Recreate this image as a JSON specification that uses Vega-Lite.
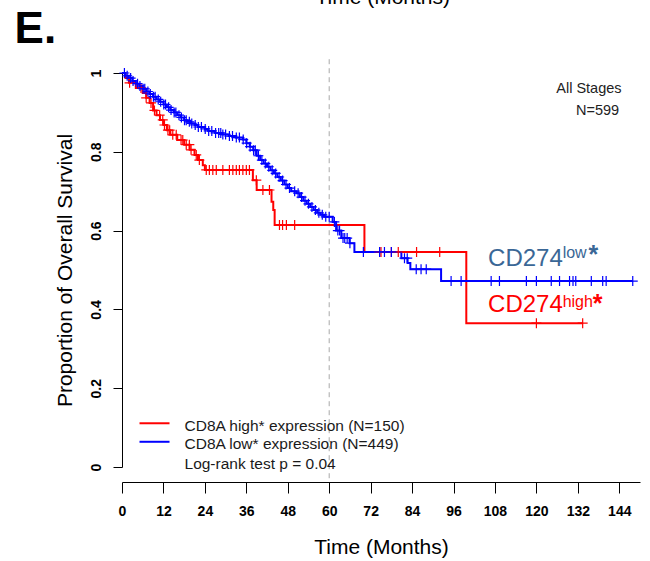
{
  "$schema": "https://vega.github.io/schema/vega-lite/v6.json",
  "width": 518,
  "height": 394,
  "autosize": {"type": "none"},
  "padding": {"left": 122, "top": 73, "right": 10, "bottom": 94},
  "background": "white",
  "config": {
    "view": {"stroke": null},
    "font": "Liberation Sans",
    "text": {"font": "Liberation Sans"}
  },
  "datasets": {
    "steps": [
      {"t": 0, "s": 1, "g": "high"}, {"t": 1, "s": 0.987, "g": "high"}, {"t": 2, "s": 0.975, "g": "high"}, {"t": 4, "s": 0.962, "g": "high"}, {"t": 6, "s": 0.949, "g": "high"}, {"t": 7, "s": 0.937, "g": "high"}, {"t": 8, "s": 0.924, "g": "high"}, {"t": 9, "s": 0.905, "g": "high"}, {"t": 10, "s": 0.893, "g": "high"}, {"t": 11, "s": 0.881, "g": "high"}, {"t": 12, "s": 0.868, "g": "high"}, {"t": 13, "s": 0.855, "g": "high"}, {"t": 14, "s": 0.843, "g": "high"}, {"t": 16, "s": 0.83, "g": "high"}, {"t": 18, "s": 0.818, "g": "high"}, {"t": 19.6, "s": 0.805, "g": "high"}, {"t": 21, "s": 0.792, "g": "high"}, {"t": 22, "s": 0.779, "g": "high"}, {"t": 23.4, "s": 0.766, "g": "high"}, {"t": 24, "s": 0.754, "g": "high"}, {"t": 37.9, "s": 0.728, "g": "high"}, {"t": 39, "s": 0.703, "g": "high"}, {"t": 43.3, "s": 0.673, "g": "high"}, {"t": 43.8, "s": 0.652, "g": "high"}, {"t": 44.2, "s": 0.614, "g": "high"}, {"t": 70.2, "s": 0.546, "g": "high"}, {"t": 99.7, "s": 0.365, "g": "high"}, {"t": 133.4, "s": 0.365, "g": "high"},
      {"t": 0, "s": 1, "g": "low"}, {"t": 1, "s": 0.993, "g": "low"}, {"t": 2, "s": 0.987, "g": "low"}, {"t": 3, "s": 0.98, "g": "low"}, {"t": 4, "s": 0.973, "g": "low"}, {"t": 5, "s": 0.967, "g": "low"}, {"t": 6, "s": 0.96, "g": "low"}, {"t": 7, "s": 0.953, "g": "low"}, {"t": 8, "s": 0.947, "g": "low"}, {"t": 9, "s": 0.94, "g": "low"}, {"t": 10, "s": 0.933, "g": "low"}, {"t": 11, "s": 0.927, "g": "low"}, {"t": 12, "s": 0.92, "g": "low"}, {"t": 13, "s": 0.913, "g": "low"}, {"t": 14, "s": 0.906, "g": "low"}, {"t": 15, "s": 0.9, "g": "low"}, {"t": 16, "s": 0.893, "g": "low"}, {"t": 17, "s": 0.887, "g": "low"}, {"t": 18, "s": 0.88, "g": "low"}, {"t": 19, "s": 0.876, "g": "low"}, {"t": 20, "s": 0.872, "g": "low"}, {"t": 21, "s": 0.868, "g": "low"}, {"t": 22, "s": 0.863, "g": "low"}, {"t": 24, "s": 0.858, "g": "low"}, {"t": 25, "s": 0.853, "g": "low"}, {"t": 27, "s": 0.848, "g": "low"}, {"t": 29, "s": 0.844, "g": "low"}, {"t": 31, "s": 0.84, "g": "low"}, {"t": 33, "s": 0.836, "g": "low"}, {"t": 35, "s": 0.831, "g": "low"}, {"t": 36, "s": 0.822, "g": "low"}, {"t": 37, "s": 0.813, "g": "low"}, {"t": 38, "s": 0.804, "g": "low"}, {"t": 39, "s": 0.79, "g": "low"}, {"t": 40, "s": 0.779, "g": "low"}, {"t": 41, "s": 0.77, "g": "low"}, {"t": 42, "s": 0.762, "g": "low"}, {"t": 43, "s": 0.753, "g": "low"}, {"t": 44, "s": 0.745, "g": "low"}, {"t": 45, "s": 0.736, "g": "low"}, {"t": 46, "s": 0.727, "g": "low"}, {"t": 47, "s": 0.717, "g": "low"}, {"t": 48, "s": 0.708, "g": "low"}, {"t": 49, "s": 0.7, "g": "low"}, {"t": 50.5, "s": 0.695, "g": "low"}, {"t": 51.5, "s": 0.685, "g": "low"}, {"t": 52.5, "s": 0.676, "g": "low"}, {"t": 53.5, "s": 0.668, "g": "low"}, {"t": 54.5, "s": 0.66, "g": "low"}, {"t": 55.5, "s": 0.652, "g": "low"}, {"t": 56.5, "s": 0.645, "g": "low"}, {"t": 57.5, "s": 0.64, "g": "low"}, {"t": 58.5, "s": 0.635, "g": "low"}, {"t": 61, "s": 0.622, "g": "low"}, {"t": 62, "s": 0.6, "g": "low"}, {"t": 63.5, "s": 0.581, "g": "low"}, {"t": 65.9, "s": 0.568, "g": "low"}, {"t": 67.3, "s": 0.546, "g": "low"}, {"t": 80.9, "s": 0.53, "g": "low"}, {"t": 82.7, "s": 0.518, "g": "low"}, {"t": 83.5, "s": 0.502, "g": "low"}, {"t": 92.4, "s": 0.472, "g": "low"}, {"t": 147.9, "s": 0.472, "g": "low"}
    ],
    "censor": [
      {"t": 2.2, "s": 0.975, "g": "high"}, {"t": 5.5, "s": 0.962, "g": "high"}, {"t": 7, "s": 0.937, "g": "high"}, {"t": 8.4, "s": 0.924, "g": "high"}, {"t": 9.4, "s": 0.905, "g": "high"}, {"t": 10.9, "s": 0.893, "g": "high"}, {"t": 11.8, "s": 0.881, "g": "high"}, {"t": 12.3, "s": 0.868, "g": "high"}, {"t": 13.3, "s": 0.855, "g": "high"}, {"t": 13.8, "s": 0.855, "g": "high"}, {"t": 14.7, "s": 0.843, "g": "high"}, {"t": 15.7, "s": 0.843, "g": "high"}, {"t": 17.1, "s": 0.83, "g": "high"}, {"t": 17.6, "s": 0.83, "g": "high"}, {"t": 18.6, "s": 0.818, "g": "high"}, {"t": 19.5, "s": 0.818, "g": "high"}, {"t": 20, "s": 0.805, "g": "high"}, {"t": 21.5, "s": 0.792, "g": "high"}, {"t": 22.4, "s": 0.779, "g": "high"}, {"t": 24.4, "s": 0.754, "g": "high"}, {"t": 25.3, "s": 0.754, "g": "high"}, {"t": 26.3, "s": 0.754, "g": "high"}, {"t": 27.3, "s": 0.754, "g": "high"}, {"t": 29.2, "s": 0.754, "g": "high"}, {"t": 31.1, "s": 0.754, "g": "high"}, {"t": 32.1, "s": 0.754, "g": "high"}, {"t": 33.1, "s": 0.754, "g": "high"}, {"t": 34, "s": 0.754, "g": "high"}, {"t": 35, "s": 0.754, "g": "high"}, {"t": 36, "s": 0.754, "g": "high"}, {"t": 36.9, "s": 0.754, "g": "high"}, {"t": 38.9, "s": 0.728, "g": "high"}, {"t": 40.8, "s": 0.703, "g": "high"}, {"t": 42.7, "s": 0.703, "g": "high"}, {"t": 45.6, "s": 0.614, "g": "high"}, {"t": 46.5, "s": 0.614, "g": "high"}, {"t": 47.6, "s": 0.614, "g": "high"}, {"t": 50, "s": 0.614, "g": "high"}, {"t": 74.6, "s": 0.546, "g": "high"}, {"t": 75, "s": 0.546, "g": "high"}, {"t": 78, "s": 0.546, "g": "high"}, {"t": 80, "s": 0.546, "g": "high"}, {"t": 85.3, "s": 0.546, "g": "high"}, {"t": 92, "s": 0.546, "g": "high"}, {"t": 120, "s": 0.365, "g": "high"}, {"t": 133.4, "s": 0.365, "g": "high"},
      {"t": 0.7, "s": 1, "g": "low"}, {"t": 1.5, "s": 0.993, "g": "low"}, {"t": 2.5, "s": 0.987, "g": "low"}, {"t": 3.2, "s": 0.98, "g": "low"}, {"t": 4.5, "s": 0.973, "g": "low"}, {"t": 5.2, "s": 0.967, "g": "low"}, {"t": 6.1, "s": 0.96, "g": "low"}, {"t": 6.6, "s": 0.96, "g": "low"}, {"t": 7.5, "s": 0.953, "g": "low"}, {"t": 8.2, "s": 0.947, "g": "low"}, {"t": 9.1, "s": 0.94, "g": "low"}, {"t": 9.6, "s": 0.94, "g": "low"}, {"t": 10.5, "s": 0.933, "g": "low"}, {"t": 11.2, "s": 0.927, "g": "low"}, {"t": 12.1, "s": 0.92, "g": "low"}, {"t": 12.6, "s": 0.92, "g": "low"}, {"t": 13.5, "s": 0.913, "g": "low"}, {"t": 14.2, "s": 0.906, "g": "low"}, {"t": 15.1, "s": 0.9, "g": "low"}, {"t": 15.6, "s": 0.9, "g": "low"}, {"t": 16.5, "s": 0.893, "g": "low"}, {"t": 17.2, "s": 0.887, "g": "low"}, {"t": 18.1, "s": 0.88, "g": "low"}, {"t": 18.6, "s": 0.88, "g": "low"}, {"t": 19.5, "s": 0.876, "g": "low"}, {"t": 20.2, "s": 0.872, "g": "low"}, {"t": 21.2, "s": 0.868, "g": "low"}, {"t": 22.1, "s": 0.863, "g": "low"}, {"t": 23, "s": 0.863, "g": "low"}, {"t": 24.1, "s": 0.858, "g": "low"}, {"t": 25.1, "s": 0.853, "g": "low"}, {"t": 26, "s": 0.853, "g": "low"}, {"t": 27.1, "s": 0.848, "g": "low"}, {"t": 28, "s": 0.848, "g": "low"}, {"t": 28.6, "s": 0.848, "g": "low"}, {"t": 29.2, "s": 0.844, "g": "low"}, {"t": 30, "s": 0.844, "g": "low"}, {"t": 31.1, "s": 0.84, "g": "low"}, {"t": 32, "s": 0.84, "g": "low"}, {"t": 33.1, "s": 0.836, "g": "low"}, {"t": 34, "s": 0.836, "g": "low"}, {"t": 35.1, "s": 0.831, "g": "low"}, {"t": 36.1, "s": 0.822, "g": "low"}, {"t": 37.1, "s": 0.813, "g": "low"}, {"t": 38.1, "s": 0.804, "g": "low"}, {"t": 38.6, "s": 0.804, "g": "low"}, {"t": 39.5, "s": 0.79, "g": "low"}, {"t": 40.5, "s": 0.779, "g": "low"}, {"t": 41.5, "s": 0.77, "g": "low"}, {"t": 42.5, "s": 0.762, "g": "low"}, {"t": 43.5, "s": 0.753, "g": "low"}, {"t": 44.5, "s": 0.745, "g": "low"}, {"t": 45.5, "s": 0.736, "g": "low"}, {"t": 46.5, "s": 0.727, "g": "low"}, {"t": 47.5, "s": 0.717, "g": "low"}, {"t": 48.5, "s": 0.708, "g": "low"}, {"t": 50, "s": 0.7, "g": "low"}, {"t": 51, "s": 0.695, "g": "low"}, {"t": 52, "s": 0.685, "g": "low"}, {"t": 53, "s": 0.676, "g": "low"}, {"t": 54, "s": 0.668, "g": "low"}, {"t": 55, "s": 0.66, "g": "low"}, {"t": 56, "s": 0.652, "g": "low"}, {"t": 57, "s": 0.645, "g": "low"}, {"t": 58, "s": 0.64, "g": "low"}, {"t": 59, "s": 0.635, "g": "low"}, {"t": 60, "s": 0.635, "g": "low"}, {"t": 61.5, "s": 0.622, "g": "low"}, {"t": 62.5, "s": 0.6, "g": "low"}, {"t": 63, "s": 0.6, "g": "low"}, {"t": 64, "s": 0.581, "g": "low"}, {"t": 64.5, "s": 0.581, "g": "low"}, {"t": 65.2, "s": 0.581, "g": "low"}, {"t": 66, "s": 0.568, "g": "low"}, {"t": 69.9, "s": 0.546, "g": "low"}, {"t": 74.6, "s": 0.546, "g": "low"}, {"t": 76, "s": 0.546, "g": "low"}, {"t": 78, "s": 0.546, "g": "low"}, {"t": 81.8, "s": 0.53, "g": "low"}, {"t": 82.6, "s": 0.53, "g": "low"}, {"t": 85.2, "s": 0.502, "g": "low"}, {"t": 86.6, "s": 0.502, "g": "low"}, {"t": 88.1, "s": 0.502, "g": "low"}, {"t": 95.3, "s": 0.472, "g": "low"}, {"t": 98.2, "s": 0.472, "g": "low"}, {"t": 106.9, "s": 0.472, "g": "low"}, {"t": 109.3, "s": 0.472, "g": "low"}, {"t": 117.1, "s": 0.472, "g": "low"}, {"t": 120, "s": 0.472, "g": "low"}, {"t": 124.3, "s": 0.472, "g": "low"}, {"t": 126.7, "s": 0.472, "g": "low"}, {"t": 129.6, "s": 0.472, "g": "low"}, {"t": 130.6, "s": 0.472, "g": "low"}, {"t": 131.4, "s": 0.472, "g": "low"}, {"t": 135.9, "s": 0.472, "g": "low"}, {"t": 139.2, "s": 0.472, "g": "low"}, {"t": 140.2, "s": 0.472, "g": "low"}, {"t": 147.9, "s": 0.472, "g": "low"}
    ],
    "legendLines": [
      {"x": 5.07, "x2": 13.76, "y": 0.111, "g": "high"},
      {"x": 5.07, "x2": 13.76, "y": 0.064, "g": "low"}
    ],
    "legendText": [
      {"x": 18.1, "y": 0.0926, "label": "CD8A high* expression (N=150)"},
      {"x": 18.1, "y": 0.0462, "label": "CD8A low* expression (N=449)"},
      {"x": 18.1, "y": -0.004, "label": "Log-rank test p = 0.04"}
    ],
    "stageText": [
      {"x": 135.2, "y": 0.9505, "label": "All Stages"},
      {"x": 137.7, "y": 0.8934, "label": "N=599"}
    ],
    "cdMain": [
      {"x": 106.0, "y": 0.511, "label": "CD274", "g": "low"},
      {"x": 106.0, "y": 0.393, "label": "CD274", "g": "high"}
    ],
    "cdSup": [
      {"x": 127.6, "y": 0.531, "label": "low", "g": "low"},
      {"x": 127.6, "y": 0.407, "label": "high", "g": "high"}
    ],
    "cdStar": [
      {"x": 135.1, "y": 0.518, "label": "*", "g": "low"},
      {"x": 136.3, "y": 0.3926, "label": "*", "g": "high"}
    ],
    "panelText": [
      {"x": -31.1, "y": 1.077, "label": "E."}
    ],
    "topText": [
      {"x": 75.5, "y": 1.174, "label": "Time (Months)"}
    ],
    "ref": [{"x": 60, "y": 1.035, "y2": -0.038}]
  },
  "layer": [
    {
      "data": {"name": "ref"},
      "mark": {"type": "rule", "color": "#a8a8a8", "strokeDash": [5, 4], "strokeWidth": 1},
      "encoding": {
        "x": {"field": "x", "type": "quantitative", "scale": {"domain": [0, 150], "nice": false, "zero": false},
          "axis": {
            "values": [0, 6, 12, 18, 24, 30, 36, 42, 48, 54, 60, 66, 72, 78, 84, 90, 96, 102, 108, 114, 120, 126, 132, 138, 144, 150],
            "labelExpr": "datum.value % 12 == 0 ? datum.label : ''",
            "offset": 15, "grid": false, "tickSize": 11, "tickColor": "#000", "domainColor": "#000",
            "labelFont": "Liberation Sans", "labelFontWeight": "bold", "labelFontSize": 14, "labelColor": "#000", "labelPadding": 11,
            "labelFlush": false, "labelOverlap": false,
            "title": "Time (Months)", "titleFont": "Liberation Sans", "titleFontSize": 21, "titleFontWeight": "normal", "titleColor": "#000", "titlePadding": 18
          }},
        "y": {"field": "y", "type": "quantitative", "scale": {"domain": [0, 1], "nice": false, "zero": false},
          "axis": {
            "values": [0, 0.1, 0.2, 0.3, 0.4, 0.5, 0.6, 0.7, 0.8, 0.9, 1],
            "format": ".1~f",
            "labelExpr": "round(datum.value * 10) % 2 == 0 ? datum.label : ''",
            "labelAngle": -90, "grid": false, "tickSize": 9, "tickColor": "#000", "domainColor": "#000",
            "labelFont": "Liberation Sans", "labelFontWeight": "bold", "labelFontSize": 14, "labelColor": "#000", "labelPadding": 10,
            "labelFlush": false, "labelOverlap": false,
            "title": "Proportion of Overall Survival", "titleFont": "Liberation Sans", "titleFontSize": 21, "titleFontWeight": "normal", "titleColor": "#000", "titlePadding": 14
          }},
        "y2": {"field": "y2"}
      }
    },
    {
      "data": {"name": "steps"},
      "mark": {"type": "line", "interpolate": "step-after", "strokeWidth": 2},
      "encoding": {
        "x": {"field": "t", "type": "quantitative"},
        "y": {"field": "s", "type": "quantitative"},
        "color": {"field": "g", "type": "nominal", "scale": {"domain": ["high", "low"], "range": ["#FF0000", "#0000FF"]}, "legend": null}
      }
    },
    {
      "data": {"name": "censor"},
      "mark": {"type": "point", "shape": "M-1,0L1,0M0,-1L0,1", "filled": false, "strokeWidth": 1.2, "size": 100, "opacity": 1},
      "encoding": {
        "x": {"field": "t", "type": "quantitative"},
        "y": {"field": "s", "type": "quantitative"},
        "stroke": {"field": "g", "type": "nominal", "scale": {"domain": ["high", "low"], "range": ["#FF0000", "#0000FF"]}, "legend": null}
      }
    },
    {
      "data": {"name": "legendLines"},
      "mark": {"type": "rule", "strokeWidth": 2},
      "encoding": {
        "x": {"field": "x", "type": "quantitative"},
        "x2": {"field": "x2"},
        "y": {"field": "y", "type": "quantitative"},
        "color": {"field": "g", "type": "nominal", "scale": {"domain": ["high", "low"], "range": ["#FF0000", "#0000FF"]}, "legend": null}
      }
    },
    {
      "data": {"name": "legendText"},
      "mark": {"type": "text", "baseline": "alphabetic", "align": "left", "fontSize": 15.5, "color": "#1a1a1a", "font": "Liberation Sans"},
      "encoding": {
        "x": {"field": "x", "type": "quantitative"},
        "y": {"field": "y", "type": "quantitative"},
        "text": {"field": "label"}
      }
    },
    {
      "data": {"name": "stageText"},
      "mark": {"type": "text", "baseline": "alphabetic", "align": "center", "fontSize": 14.5, "color": "#222222", "font": "Liberation Sans"},
      "encoding": {
        "x": {"field": "x", "type": "quantitative"},
        "y": {"field": "y", "type": "quantitative"},
        "text": {"field": "label"}
      }
    },
    {
      "data": {"name": "cdMain"},
      "mark": {"type": "text", "baseline": "alphabetic", "align": "left", "fontSize": 24, "font": "Liberation Sans"},
      "encoding": {
        "x": {"field": "x", "type": "quantitative"},
        "y": {"field": "y", "type": "quantitative"},
        "text": {"field": "label"},
        "fill": {"field": "g", "type": "nominal", "scale": {"domain": ["high", "low"], "range": ["#FF0000", "#3A6796"]}, "legend": null}
      }
    },
    {
      "data": {"name": "cdSup"},
      "mark": {"type": "text", "baseline": "alphabetic", "align": "left", "fontSize": 16, "font": "Liberation Sans"},
      "encoding": {
        "x": {"field": "x", "type": "quantitative"},
        "y": {"field": "y", "type": "quantitative"},
        "text": {"field": "label"},
        "fill": {"field": "g", "type": "nominal", "scale": {"domain": ["high", "low"], "range": ["#FF0000", "#3A6796"]}, "legend": null}
      }
    },
    {
      "data": {"name": "cdStar"},
      "mark": {"type": "text", "baseline": "alphabetic", "align": "left", "fontSize": 25, "fontWeight": "bold", "font": "Liberation Sans"},
      "encoding": {
        "x": {"field": "x", "type": "quantitative"},
        "y": {"field": "y", "type": "quantitative"},
        "text": {"field": "label"},
        "fill": {"field": "g", "type": "nominal", "scale": {"domain": ["high", "low"], "range": ["#FF0000", "#3A6796"]}, "legend": null}
      }
    },
    {
      "data": {"name": "panelText"},
      "mark": {"type": "text", "baseline": "alphabetic", "align": "left", "fontSize": 44, "fontWeight": "bold", "color": "#000000", "font": "Liberation Sans"},
      "encoding": {
        "x": {"field": "x", "type": "quantitative"},
        "y": {"field": "y", "type": "quantitative"},
        "text": {"field": "label"}
      }
    },
    {
      "data": {"name": "topText"},
      "mark": {"type": "text", "baseline": "alphabetic", "align": "center", "fontSize": 21, "color": "#000000", "font": "Liberation Sans"},
      "encoding": {
        "x": {"field": "x", "type": "quantitative"},
        "y": {"field": "y", "type": "quantitative"},
        "text": {"field": "label"}
      }
    }
  ]
}
